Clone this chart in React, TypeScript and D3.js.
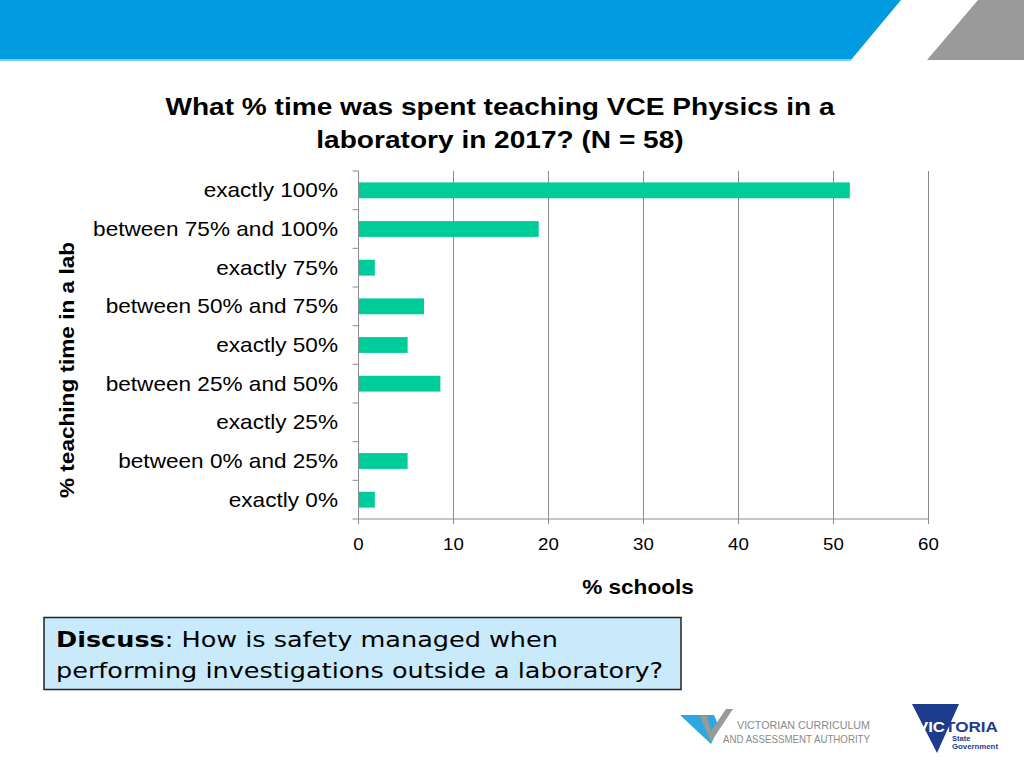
import React from 'react';
import * as d3 from 'd3';

const categories = [
  'exactly 100%',
  'between 75% and 100%',
  'exactly 75%',
  'between 50% and 75%',
  'exactly 50%',
  'between 25% and 50%',
  'exactly 25%',
  'between 0% and 25%',
  'exactly 0%',
];
const schoolsPct = [51.72, 18.97, 1.72, 6.9, 5.17, 8.62, 0, 5.17, 1.72];
const xTicks = [0, 10, 20, 30, 40, 50, 60];
const titleLines = ['What % time was spent teaching VCE Physics in a', 'laboratory in 2017? (N = 58)'];

const FONT = '"Liberation Sans", Arial, sans-serif';
const SX = 1.13; // the slide text is a little wide

export default function App() {
  const width = 1024;
  const height = 768;
  const left = 358.5;
  const right = 928.5;
  const top = 171;
  const bottom = 519;

  const x = d3.scaleLinear().domain([0, 60]).range([left, right]);
  const y = d3.scaleBand().domain(categories).range([top, bottom]).paddingInner(0.59).paddingOuter(0.295);
  const band = d3.scaleBand().domain(categories).range([top, bottom]);

  return (
    <svg width={width} height={height} viewBox={`0 0 ${width} ${height}`}
      style={{ position: 'absolute', left: 0, top: 0, background: '#fff' }}>
      {/* banner */}
      <polygon points="0,0 901,0 851,60 0,60" fill="#009BE0" />
      <rect x={0} y={59} width={851} height={2} fill="#7FCFF0" />
      <polygon points="978,0 1024,0 1024,60 927,60" fill="#9A9A9A" />

      {/* title */}
      {titleLines.map((t, i) => (
        <text key={i} transform={`translate(500,${115 + i * 33}) scale(1.17,1)`} textAnchor="middle"
          fontFamily={FONT} fontWeight="bold" fontSize={24} fill="#000">{t}</text>
      ))}

      {/* gridlines */}
      {xTicks.slice(1).map(t => (
        <line key={t} x1={x(t)} x2={x(t)} y1={top} y2={bottom} stroke="#8C8C8C" strokeWidth={1} />
      ))}

      {/* bars */}
      {categories.map((c, i) => (
        <rect key={c} x={x(0)} y={y(c)} width={x(schoolsPct[i]) - x(0)} height={y.bandwidth()}
          fill="#00CC99" />
      ))}

      {/* left axis */}
      <line x1={left} x2={left} y1={top} y2={bottom} stroke="#8C8C8C" />
      {categories.map(c => (
        <line key={c} x1={left - 6} x2={left} y1={band(c)} y2={band(c)} stroke="#8C8C8C" />
      ))}
      <line x1={left - 6} x2={left} y1={bottom} y2={bottom} stroke="#8C8C8C" />
      {categories.map(c => (
        <text key={c} transform={`translate(338,${(band(c) as number) + band.bandwidth() / 2 + 7}) scale(${SX},1)`}
          textAnchor="end" fontFamily={FONT} fontSize={20} fill="#000">{c}</text>
      ))}

      {/* bottom axis */}
      <line x1={left} x2={right} y1={bottom} y2={bottom} stroke="#8C8C8C" />
      {xTicks.map(t => (
        <g key={t}>
          <line x1={x(t)} x2={x(t)} y1={bottom} y2={bottom + 5} stroke="#8C8C8C" />
          <text transform={`translate(${x(t)},550) scale(1.1,1)`} textAnchor="middle"
            fontFamily={FONT} fontSize={17} fill="#000">{t}</text>
        </g>
      ))}

      {/* axis titles */}
      <text transform={`translate(638,594) scale(${SX},1)`} textAnchor="middle" fontFamily={FONT}
        fontWeight="bold" fontSize={20}>% schools</text>
      <text transform={`translate(74,370) rotate(-90) scale(${SX},1)`} textAnchor="middle" fontFamily={FONT}
        fontWeight="bold" fontSize={20}>% teaching time in a lab</text>

      {/* discuss box */}
      <rect x={44} y={617.5} width={637} height={72} fill="#C9EAFA" stroke="#222" strokeWidth={1.5} />
      <g transform="translate(56,0) scale(1.16,1)">
        <text fontFamily='"DejaVu Sans", Verdana, sans-serif' fontSize={22} fill="#000">
          <tspan x={0} y={647}><tspan fontWeight="bold">Discuss</tspan>: How is safety managed when</tspan>
          <tspan x={0} y={678}>performing investigations outside a laboratory?</tspan>
        </text>
      </g>

      {/* VCAA logo */}
      <polygon points="680,715 714,715 719,727 711,744" fill="#2EA8E0" />
      <polygon points="700,716 711,742 733,709 726,709 711,731 707,716" fill="#9A9A9A" />
      <text x={737} y={729} textLength={133} lengthAdjust="spacingAndGlyphs" fontFamily={FONT}
        fontSize={11} fill="#8A8A8A">VICTORIAN CURRICULUM</text>
      <text x={723} y={743} textLength={147} lengthAdjust="spacingAndGlyphs" fontFamily={FONT}
        fontSize={11} fill="#8A8A8A">AND ASSESSMENT AUTHORITY</text>

      {/* Victoria logo */}
      <polygon points="912,704 959,704 937,753" fill="#1E3C8C" />
      <text x={917} y={732} textLength={28} lengthAdjust="spacingAndGlyphs" fontFamily={FONT}
        fontWeight="bold" fontSize={14} fill="#fff">VIC</text>
      <text x={945} y={732} textLength={53} lengthAdjust="spacingAndGlyphs" fontFamily={FONT}
        fontWeight="bold" fontSize={14} fill="#1E3C8C">TORIA</text>
      <text x={952} y={741} fontFamily={FONT} fontWeight="bold" fontSize={7.5} fill="#1E3C8C">State</text>
      <text x={952} y={749} textLength={46} lengthAdjust="spacingAndGlyphs" fontFamily={FONT}
        fontWeight="bold" fontSize={7.5} fill="#1E3C8C">Government</text>
    </svg>
  );
}
